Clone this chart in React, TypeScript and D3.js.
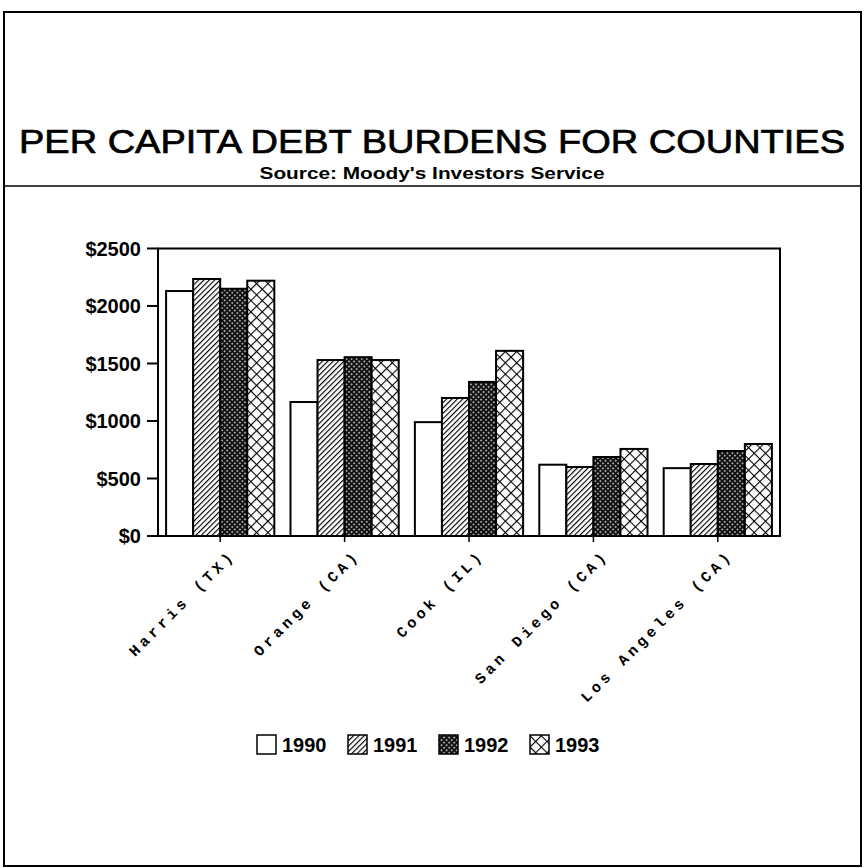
import React from "react";
import * as d3 from "d3";

const counties = ["Harris (TX)", "Orange (CA)", "Cook (IL)", "San Diego (CA)", "Los Angeles (CA)"];
const years = ["1990", "1991", "1992", "1993"];
const v1990 = [2130, 1165, 990, 620, 590];
const v1991 = [2235, 1530, 1200, 600, 626];
const v1992 = [2150, 1555, 1340, 687, 739];
const v1993 = [2220, 1530, 1610, 757, 800];
const yTicks = [0, 500, 1000, 1500, 2000, 2500];
const title = "PER CAPITA DEBT BURDENS FOR COUNTIES";
const subtitle = "Source: Moody's Investors Service";

const series = [v1990, v1991, v1992, v1993];
const fills = ["#fff", "url(#p1991)", "url(#p1992)", "url(#p1993)"];

export default function App() {
  const W = 864, H = 868;
  const left = 158, right = 780, top = 248.5, bottom = 536;
  const x = d3.scaleBand<string>().domain(counties).range([left, right]).paddingInner(0.13).paddingOuter(0.065);
  const xs = d3.scaleBand<string>().domain(years).range([0, x.bandwidth()]);
  const y = d3.scaleLinear().domain([0, 2500]).range([bottom, top]);
  const sans = "'Liberation Sans', Arial, Helvetica, sans-serif";
  const legendStep = 91;
  const legendX0 = 257;
  const legendY = 745;

  return (
    <svg width={W} height={H} viewBox={`0 0 ${W} ${H}`} style={{ position: "absolute", left: 0, top: 0, background: "#fff" }}>
      <defs>
        <pattern id="p1991" width="3.8" height="3.8" patternUnits="userSpaceOnUse" patternTransform="rotate(45)">
          <rect width="3.8" height="3.8" fill="#fff" />
          <line x1="0" y1="0" x2="0" y2="3.8" stroke="#000" strokeWidth="2.3" />
        </pattern>
        <pattern id="p1992" width="3.6" height="3.6" patternUnits="userSpaceOnUse" patternTransform="rotate(45)">
          <rect width="3.6" height="3.6" fill="#111" />
          <rect x="1.1" y="1.1" width="1.4" height="1.4" fill="#fff" />
        </pattern>
        <pattern id="p1993" width="8" height="8" patternUnits="userSpaceOnUse" patternTransform="rotate(45)">
          <rect width="8" height="8" fill="#fff" />
          <line x1="0" y1="0" x2="0" y2="8" stroke="#000" strokeWidth="2.2" />
          <line x1="0" y1="0" x2="8" y2="0" stroke="#000" strokeWidth="2.2" />
        </pattern>
      </defs>
      <rect x={0} y={0} width={W} height={H} fill="#fff" />
      {/* outer frame */}
      <rect x={4} y={12} width={857} height={854} fill="none" stroke="#000" strokeWidth={2} />
      <line x1={4} x2={861} y1={186} y2={186} stroke="#000" strokeWidth={1.5} />
      <text x={432} y={153} textAnchor="middle" fontFamily={sans} fontSize={33} textLength={826} lengthAdjust="spacingAndGlyphs" fill="#000" stroke="#000" strokeWidth={0.7}>{title}</text>
      <text x={432} y={179} textAnchor="middle" fontFamily={sans} fontSize={17} fontWeight="bold" textLength={345} lengthAdjust="spacingAndGlyphs" fill="#000">{subtitle}</text>

      {/* bars */}
      {counties.map((c, i) => (
        <g key={c} transform={`translate(${x(c)},0)`}>
          {series.map((s, j) => (
            <rect key={j} x={xs(years[j])} y={y(s[i])} width={xs.bandwidth()} height={bottom - y(s[i])} fill={fills[j]} stroke="#000" strokeWidth={2} />
          ))}
        </g>
      ))}

      {/* plot box */}
      <rect x={left} y={top} width={right - left} height={bottom - top} fill="none" stroke="#000" strokeWidth={2} />
      {yTicks.map((t) => (
        <g key={t}>
          <line x1={left - 11} x2={left} y1={y(t)} y2={y(t)} stroke="#000" strokeWidth={2} />
          <text x={left - 17} y={y(t) + 7} textAnchor="end" fontFamily={sans} fontSize={20} fontWeight="bold">{`$${t}`}</text>
        </g>
      ))}
      {counties.map((c) => {
        const cx = (x(c) as number) + x.bandwidth() / 2;
        return (
          <g key={c}>
            <line x1={cx} x2={cx} y1={bottom} y2={bottom + 6} stroke="#000" strokeWidth={1.5} />
            <text transform={`translate(${cx + 16},${bottom + 20}) rotate(-45)`} textAnchor="end" fontFamily="'Liberation Mono', 'DejaVu Sans Mono', monospace" fontSize={15} fontWeight="bold" letterSpacing={4}>{c}</text>
          </g>
        );
      })}

      {/* legend */}
      {years.map((yr, j) => (
        <g key={yr} transform={`translate(${legendX0 + j * legendStep},${legendY - 10})`}>
          <rect x={0} y={0} width={19} height={19} fill={fills[j]} stroke="#000" strokeWidth={1.5} />
          <text x={25} y={17} fontFamily={sans} fontSize={20} fontWeight="bold">{yr}</text>
        </g>
      ))}
    </svg>
  );
}
